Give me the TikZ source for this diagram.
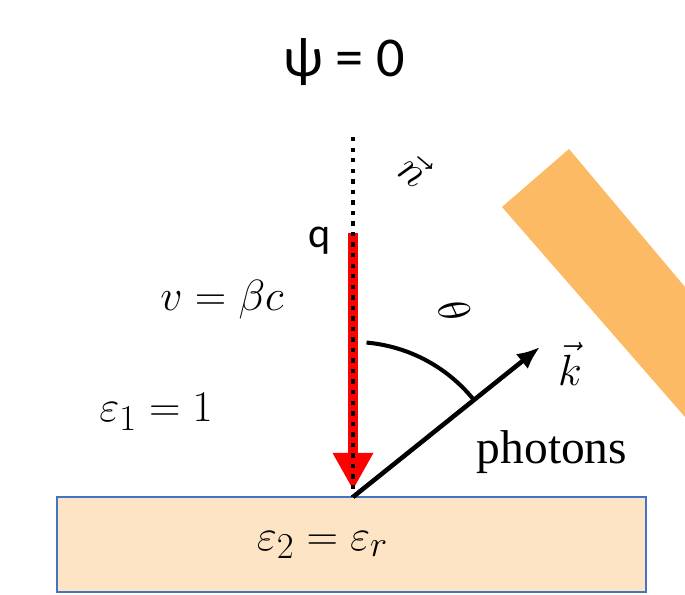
\documentclass[tikz,border=0pt]{standalone}
\usepackage{fontspec}
\setmainfont{Liberation Serif}
\newfontfamily\calibri{Carlito}
\usetikzlibrary{arrows.meta}
\definecolor{slab}{RGB}{253,228,196}
\definecolor{slabedge}{RGB}{68,114,196}
\definecolor{screen}{RGB}{251,186,99}

\begin{document}
\begin{tikzpicture}[
  big/.style={font=\fontsize{29}{33}\selectfont},
  mid/.style={font=\fontsize{24}{28}\selectfont},
  beam/.style={-{Triangle[width=0.76cm,length=0.74cm]}, line width=0.2cm, red},
  axis/.style={line width=2.5pt, dash pattern=on 2.5pt off 3.5pt},
  ray/.style={-{Latex[length=0.46cm,width=0.38cm]}, line width=2.6pt},
  angarc/.style={line width=2.3pt}
]
\useasboundingbox (0,0) rectangle (13.7,11.9);
% tilted screen on the right
\fill[screen] (10.04,7.76) -- (11.38,8.92) -- (13.7,6.16) -- (13.7,3.56) -- cycle;
% medium 2
\node[draw=slabedge, fill=slab, line width=0.6pt, minimum width=11.78cm,
  minimum height=1.9cm, inner sep=0pt] (medium) at (7.03,1.01) {};
\node[big] (eps2) at (6.45,1.0) {$\varepsilon_2=\varepsilon_r$};
\coordinate (O) at (7.06,1.96);
\coordinate (ntop) at (7.06,9.16);
\coordinate (qstart) at (7.06,7.24);
\coordinate (qtip) at (7.06,2.1);
\coordinate (kend) at (10.8,4.96);
% labels
\node[font=\fontsize{32}{36}\selectfont\calibri] (psi) at (6.88,10.66) {ψ = 0};
\node[font=\fontsize{24}{28}\selectfont\calibri] (q) at (6.4,7.08) {q};
\node[mid, rotate=-40] (n) at (8.3,8.5) {$\vec{n}$};
\node[big] (v) at (4.44,5.9) {$v=\beta c$};
\node[big] (eps1) at (3.12,3.66) {$\varepsilon_1=1$};
\node[mid, rotate=-65] (theta) at (9.1,5.68) {$\theta$};
\node[big] (k) at (11.4,4.62) {$\vec{k}$};
\node[font=\fontsize{27}{31}\selectfont] (photons) at (11.04,2.86) {photons};
% charge, axis, photon direction
\draw[beam] (qstart) -- (qtip);
\draw[axis] (ntop) -- (O);
\draw[ray] (O) -- (kend);
\draw[angarc] (O) ++(85:3.1) arc[start angle=85, end angle=39, radius=3.1];
\end{tikzpicture}
\end{document}
